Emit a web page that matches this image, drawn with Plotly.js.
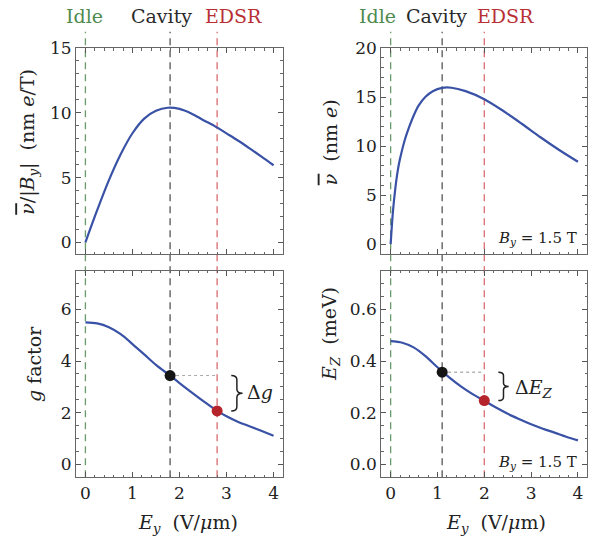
<!DOCTYPE html>
<html>
<head>
<meta charset="utf-8">
<script src="https://cdn.plot.ly/plotly-3.0.1.min.js"></script>
<style>html,body{margin:0;padding:0;background:#fff;}#chart{width:598px;height:537px;}</style>
</head>
<body>
<div id="chart"></div>
<script>
// ---- data ----
const xNuB = [0, 0.25, 0.5, 0.75, 1.0, 1.25, 1.5, 1.75, 2.0, 2.25, 2.5, 2.75, 3.0, 3.25, 3.5, 3.75, 4.0];
const nuOverB = [0, 2.48, 4.8, 6.8, 8.42, 9.55, 10.15, 10.39, 10.3, 9.95, 9.45, 8.97, 8.41, 7.84, 7.23, 6.6, 5.95];

const xNu = [0, 0.05, 0.1, 0.15, 0.2, 0.3, 0.4, 0.5, 0.6, 0.75, 0.9, 1.1, 1.3, 1.6, 2.0, 2.4, 2.8, 3.2, 3.6, 4.0];
const nu = [0, 3.4, 5.7, 7.45, 8.7, 10.6, 12.0, 13.2, 14.15, 15.05, 15.6, 15.94, 15.95, 15.6, 14.78, 13.6, 12.28, 10.9, 9.6, 8.4];

const xG = [0, 0.25, 0.5, 0.75, 1.0, 1.25, 1.5, 1.8, 2.0, 2.25, 2.5, 2.8, 3.0, 3.25, 3.5, 3.75, 4.0];
const gFactor = [5.5, 5.46, 5.31, 5.04, 4.66, 4.26, 3.85, 3.44, 3.15, 2.8, 2.46, 2.07, 1.86, 1.64, 1.47, 1.29, 1.11];

const xEz = [0, 0.25, 0.5, 0.75, 1.0, 1.25, 1.5, 1.75, 2.0, 2.25, 2.5, 2.75, 3.0, 3.25, 3.5, 3.75, 4.0];
const ez = [0.477, 0.471, 0.452, 0.418, 0.376, 0.337, 0.302, 0.272, 0.246, 0.22, 0.196, 0.175, 0.155, 0.138, 0.123, 0.107, 0.093];

// operating points: idle, cavity, EDSR (per column)
const opLeft = {idle: 0, cavity: 1.8, edsr: 2.8};
const opRight = {idle: 0, cavity: 1.1, edsr: 2.0};
const gDotsY = [3.44, 2.07];
const ezDotsY = [0.357, 0.247];

const opLabels = ['Idle', 'Cavity', 'EDSR'];
const xTickVals = [0, 1, 2, 3, 4];
const xTickText = ['0', '1', '2', '3', '4'];

// ---- styles ----
const FONT = 'DejaVu Serif';
const BLUE = '#3a52a6';
const cIdle = '#6a9a6a', cCav = '#555555', cEdsr = '#d86a6e';
const tIdle = '#4f8a4f', tCav = '#2a2a2a', tEdsr = '#b83035';

const lineStyle = {color: BLUE, width: 2.2, shape: 'spline', smoothing: 0.9};
const traces = [
  {x: xNuB, y: nuOverB, xaxis: 'x', yaxis: 'y', mode: 'lines', line: lineStyle, hoverinfo: 'skip'},
  {x: xNu, y: nu, xaxis: 'x2', yaxis: 'y2', mode: 'lines', line: lineStyle, hoverinfo: 'skip'},
  {x: xG, y: gFactor, xaxis: 'x3', yaxis: 'y3', mode: 'lines', line: lineStyle, hoverinfo: 'skip'},
  {x: xEz, y: ez, xaxis: 'x4', yaxis: 'y4', mode: 'lines', line: lineStyle, hoverinfo: 'skip'},
  {x: [opLeft.cavity, opLeft.edsr], y: [gDotsY[0], gDotsY[0]], xaxis: 'x3', yaxis: 'y3', mode: 'lines', line: {color: '#a8a8a8', width: 1, dash: 'dot'}, hoverinfo: 'skip'},
  {x: [opRight.cavity, opRight.edsr], y: [ezDotsY[0], ezDotsY[0]], xaxis: 'x4', yaxis: 'y4', mode: 'lines', line: {color: '#909090', width: 1, dash: 'dot'}, hoverinfo: 'skip'},
  {x: [opLeft.cavity, opLeft.edsr], y: gDotsY, xaxis: 'x3', yaxis: 'y3', mode: 'markers', marker: {color: ['#151515', '#b5242a'], size: 11}, hoverinfo: 'skip'},
  {x: [opRight.cavity, opRight.edsr], y: ezDotsY, xaxis: 'x4', yaxis: 'y4', mode: 'markers', marker: {color: ['#151515', '#b5242a'], size: 11}, hoverinfo: 'skip'}
];

function xAxis(domain, anchor, showLabels) {
  return {
    domain: domain, anchor: anchor, range: [-0.2, 4.2],
    tickmode: 'array', tickvals: xTickVals, ticktext: xTickText,
    showticklabels: showLabels,
    ticks: 'inside', ticklen: 5, tickwidth: 1, tickcolor: '#555',
    minor: {dtick: 0.2, tick0: 0, ticks: 'inside', ticklen: 2.5, tickwidth: 1, tickcolor: '#666', showgrid: false},
    showline: true, linecolor: '#666', linewidth: 1, mirror: 'allticks',
    showgrid: false, zeroline: false,
    tickfont: {family: FONT, size: 17, color: '#222'}, fixedrange: true
  };
}
function yAxis(domain, anchor, range, dtick, minor) {
  return {
    domain: domain, anchor: anchor, range: range, dtick: dtick, tick0: 0,
    ticks: 'inside', ticklen: 5, tickwidth: 1, tickcolor: '#555',
    minor: {dtick: minor, tick0: 0, ticks: 'inside', ticklen: 2.5, tickwidth: 1, tickcolor: '#666', showgrid: false},
    showline: true, linecolor: '#666', linewidth: 1, mirror: 'allticks',
    showgrid: false, zeroline: false,
    tickfont: {family: FONT, size: 17, color: '#222'}, fixedrange: true
  };
}

const dL = [0.1271, 0.4732], dR = [0.6376, 0.9821];
const dT = [0.527, 0.9106], dB = [0.1112, 0.4959];

const shapes = [];
function vline(xref, xv, color) {
  shapes.push({type: 'line', xref: xref, yref: 'paper', x0: xv, x1: xv, y0: dB[0], y1: 0.941,
    line: {color: color, width: 1.3, dash: '7px,5px'}, layer: 'below'});
}
[['x', opLeft], ['x2', opRight]].forEach(([xr, op]) => {
  vline(xr, op.idle, cIdle); vline(xr, op.cavity, cCav); vline(xr, op.edsr, cEdsr);
});

function brace(xref, yref, x0, w, yTop, yBot) {
  const xh = x0 + w / 2, xt = x0 + w, ym = (yTop + yBot) / 2, d = (yTop - yBot) * 0.12;
  const p = `M ${x0},${yTop} Q ${xh},${yTop} ${xh},${yTop - d} L ${xh},${ym + d} Q ${xh},${ym} ${xt},${ym} ` +
            `Q ${xh},${ym} ${xh},${ym - d} L ${xh},${yBot + d} Q ${xh},${yBot} ${x0},${yBot}`;
  shapes.push({type: 'path', xref: xref, yref: yref, path: p, line: {color: '#222', width: 1.5}});
}
brace('x3', 'y3', 3.1, 0.24, gDotsY[0], gDotsY[1]);
brace('x4', 'y4', 2.3, 0.22, ezDotsY[0], ezDotsY[1]);

const NUBAR = '<span style="text-decoration:overline"><i>ν</i></span>';
const tfont = {family: FONT, size: 19, color: '#222'};
function ann(o) { return Object.assign({showarrow: false, xanchor: 'center', yanchor: 'middle'}, o); }
const annotations = [
  ann({xref: 'paper', yref: 'paper', x: 0.1421, y: 0.971, text: opLabels[0], font: {family: FONT, size: 19, color: tIdle}}),
  ann({xref: 'paper', yref: 'paper', x: 0.2709, y: 0.971, text: opLabels[1], font: {family: FONT, size: 19, color: tCav}}),
  ann({xref: 'paper', yref: 'paper', x: 0.3913, y: 0.971, text: opLabels[2], font: {family: FONT, size: 19, color: tEdsr}}),
  ann({xref: 'paper', yref: 'paper', x: 0.6321, y: 0.971, text: opLabels[0], font: {family: FONT, size: 19, color: tIdle}}),
  ann({xref: 'paper', yref: 'paper', x: 0.7303, y: 0.971, text: opLabels[1], font: {family: FONT, size: 19, color: tCav}}),
  ann({xref: 'paper', yref: 'paper', x: 0.8458, y: 0.971, text: opLabels[2], font: {family: FONT, size: 19, color: tEdsr}}),
  ann({xref: 'paper', yref: 'paper', x: 0.0485, y: 0.736, textangle: -90, font: tfont,
   text: NUBAR + '/|<i>B</i><sub><i>y</i></sub>|  (nm <i>e</i>/T)'}),
  ann({xref: 'paper', yref: 'paper', x: 0.5518, y: 0.735, textangle: -90, font: tfont,
   text: NUBAR + '  (nm <i>e</i>)'}),
  ann({xref: 'paper', yref: 'paper', x: 0.0569, y: 0.322, textangle: -90, font: tfont,
   text: '<i>g</i> factor'}),
  ann({xref: 'paper', yref: 'paper', x: 0.5518, y: 0.378, textangle: -90, font: tfont,
   text: '<i>E</i><sub><i>Z</i></sub>  (meV)'}),
  ann({xref: 'paper', yref: 'paper', x: 0.314, y: 0.026, font: tfont,
   text: '<i>E</i><sub><i>y</i></sub>  (V/<i>μ</i>m)'}),
  ann({xref: 'paper', yref: 'paper', x: 0.829, y: 0.026, font: tfont,
   text: '<i>E</i><sub><i>y</i></sub>  (V/<i>μ</i>m)'}),
  ann({xref: 'x2', yref: 'y2', x: 4.02, y: 0.6, xanchor: 'right', font: {family: FONT, size: 15, color: '#222'},
   text: '<i>B</i><sub><i>y</i></sub> = 1.5 T'}),
  ann({xref: 'x4', yref: 'y4', x: 4.02, y: 0.006, xanchor: 'right', font: {family: FONT, size: 15, color: '#222'},
   text: '<i>B</i><sub><i>y</i></sub> = 1.5 T'}),
  ann({xref: 'x3', yref: 'y3', x: 3.72, y: 2.8, font: tfont, text: 'Δ<i>g</i>'}),
  ann({xref: 'x4', yref: 'y4', x: 3.07, y: 0.294, font: tfont, text: 'Δ<i>E</i><sub><i>Z</i></sub>'})
];

const layout = {
  width: 598, height: 537, margin: {l: 0, r: 0, t: 0, b: 0},
  paper_bgcolor: '#ffffff', plot_bgcolor: 'rgba(0,0,0,0)', showlegend: false,
  font: {family: FONT, size: 17, color: '#222'},
  xaxis: xAxis(dL, 'y', false), yaxis: yAxis(dT, 'x', [-0.9, 15], 5, 1),
  xaxis2: xAxis(dR, 'y2', false), yaxis2: yAxis(dT, 'x2', [-1, 20], 5, 1),
  xaxis3: xAxis(dL, 'y3', true), yaxis3: yAxis(dB, 'x3', [-0.5, 7.5], 2, 0.5),
  xaxis4: xAxis(dR, 'y4', true), yaxis4: yAxis(dB, 'x4', [-0.05, 0.75], 0.2, 0.05),
  shapes: shapes, annotations: annotations
};
layout.yaxis4.tickformat = '.1f';

Plotly.newPlot('chart', traces, layout, {staticPlot: true, displayModeBar: false});
</script>
</body>
</html>
